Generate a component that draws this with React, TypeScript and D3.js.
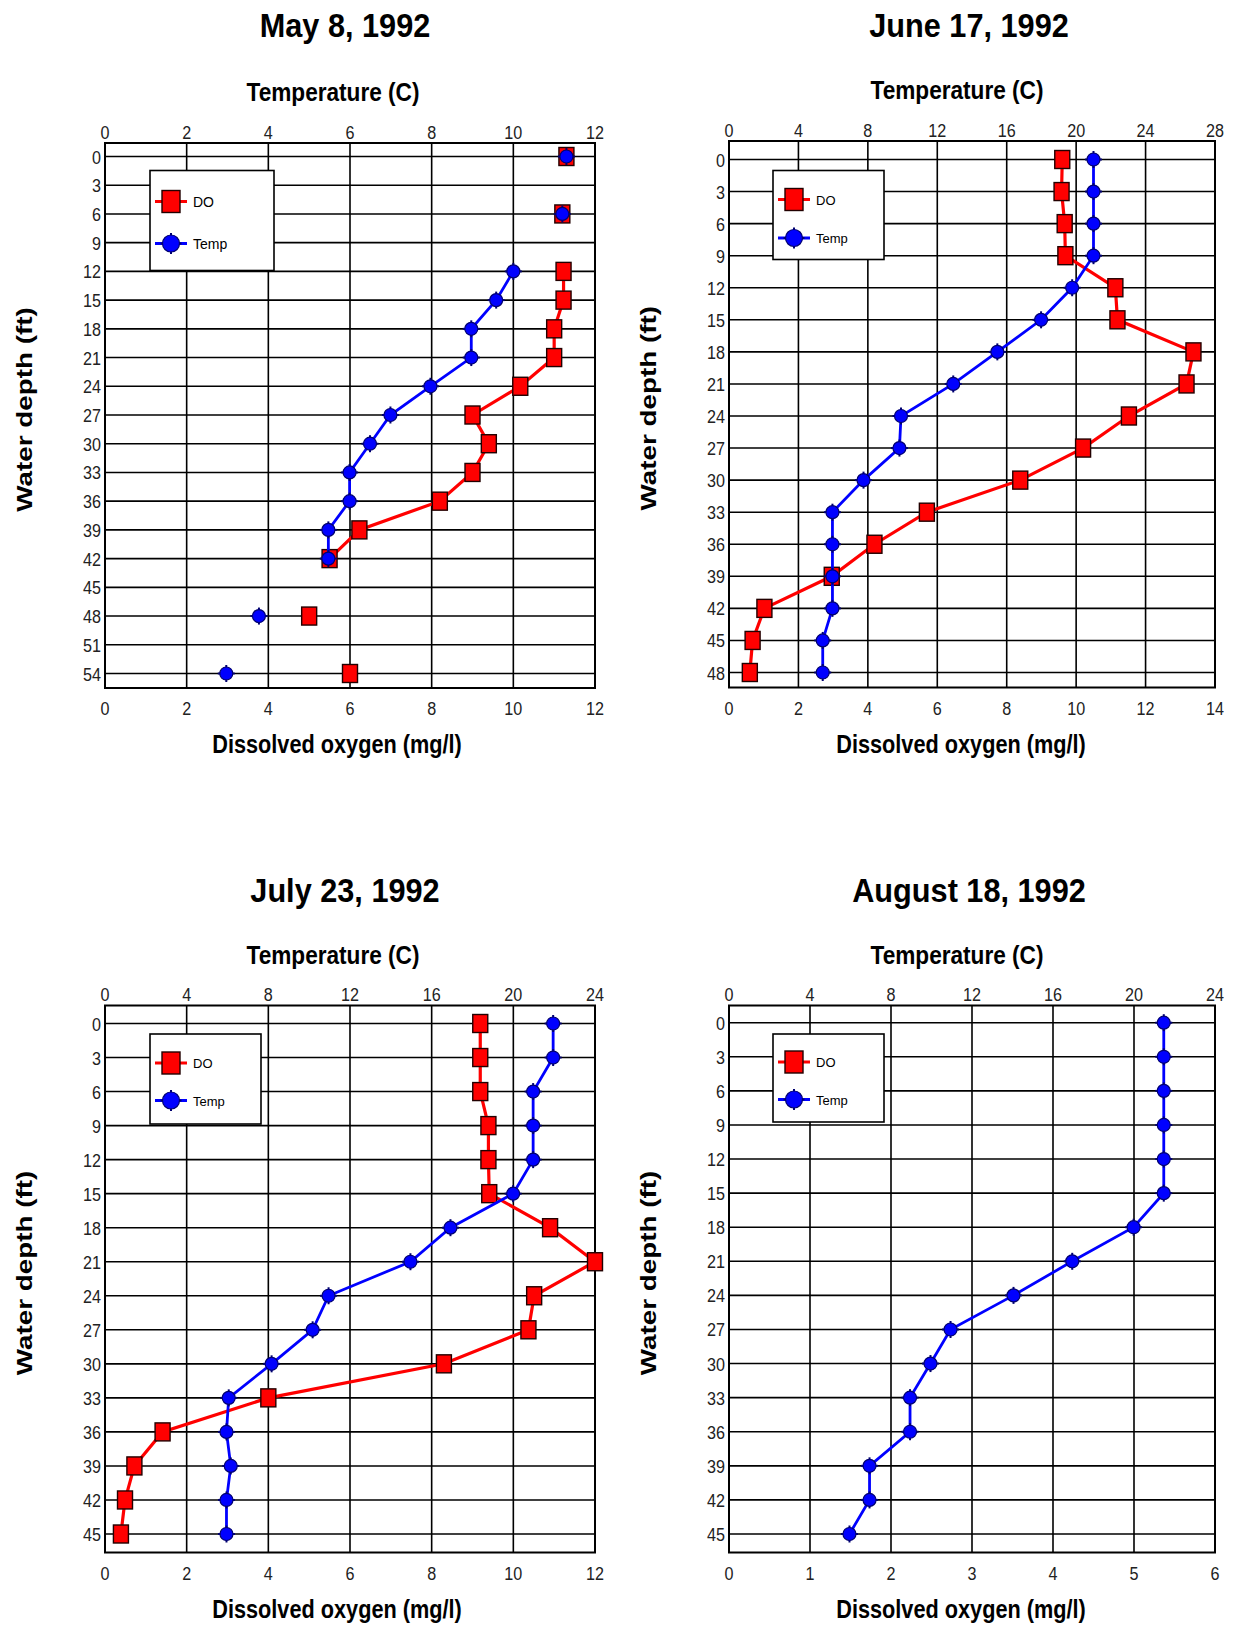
import * as d3 from 'd3'

const FONT = '"Liberation Sans", Arial, Helvetica, sans-serif'

// depth categories (ft)
const depthsMay = [0, 3, 6, 9, 12, 15, 18, 21, 24, 27, 30, 33, 36, 39, 42, 45, 48, 51, 54]
const depthsJune = [0, 3, 6, 9, 12, 15, 18, 21, 24, 27, 30, 33, 36, 39, 42, 45, 48]
const depthsJuly = [0, 3, 6, 9, 12, 15, 18, 21, 24, 27, 30, 33, 36, 39, 42, 45]
const depthsAug = [0, 3, 6, 9, 12, 15, 18, 21, 24, 27, 30, 33, 36, 39, 42, 45]

// dissolved oxygen (mg/l) and temperature (C), null = no reading
const doMay = [11.3, null, 11.2, null, 11.23, 11.23, 11.0, 11.0, 10.17, 9.0, 9.4, 9.0, 8.2, 6.23, 5.5, null, 5.0, null, 6.0]
const tempMay = [11.3, null, 11.2, null, 10.0, 9.58, 8.97, 8.97, 7.97, 6.99, 6.49, 5.99, 5.99, 5.47, 5.47, null, 3.77, null, 2.97]

const doJune = [9.6, 9.58, 9.67, 9.69, 11.13, 11.19, 13.38, 13.18, 11.52, 10.2, 8.39, 5.7, 4.19, 2.96, 1.02, 0.68, 0.6]
const tempJune = [21, 21, 21, 21, 19.77, 17.98, 15.46, 12.92, 9.91, 9.82, 7.75, 5.96, 5.96, 5.96, 5.96, 5.4, 5.4]

const doJuly = [9.19, 9.19, 9.19, 9.39, 9.39, 9.41, 10.9, 12.0, 10.51, 10.37, 8.3, 4.0, 1.41, 0.72, 0.49, 0.39]
const tempJuly = [21.95, 21.95, 20.97, 20.97, 20.97, 19.99, 16.92, 14.96, 10.95, 10.17, 8.16, 6.06, 5.95, 6.16, 5.95, 5.95]

const doAug = [null, null, null, null, null, null, null, null, null, null, null, null, null, null, null, null]
const tempAug = [21.47, 21.47, 21.47, 21.47, 21.47, 21.47, 19.98, 16.95, 14.05, 10.94, 9.95, 8.94, 8.94, 6.94, 6.94, 5.95]

// tick labels
const doTicks12 = [0, 2, 4, 6, 8, 10, 12]
const doTicks14 = [0, 2, 4, 6, 8, 10, 12, 14]
const doTicks6 = [0, 1, 2, 3, 4, 5, 6]
const tempTicks12 = [0, 2, 4, 6, 8, 10, 12]
const tempTicks28 = [0, 4, 8, 12, 16, 20, 24, 28]
const tempTicks24 = [0, 4, 8, 12, 16, 20, 24]

const RED = '#ff0000'
const BLUE = '#0000ff'

type Panel = {
  title: string
  depths: number[]
  dox: (number | null)[]
  temp: (number | null)[]
  doTicks: number[]
  tempTicks: number[]
  left: number
  right: number
  top: number
  bottom: number
  y0: number
  yEnd: number
  titleY: number
  legend: { x: number; y: number; w: number; h: number; doY: number; tY: number; fs: number }
}

const panels: Panel[] = [
  {
    title: 'May 8, 1992', depths: depthsMay, dox: doMay, temp: tempMay,
    doTicks: doTicks12, tempTicks: tempTicks12,
    left: 105, right: 595, top: 143, bottom: 688, y0: 156.5, yEnd: 673.5, titleY: 37,
    legend: { x: 150, y: 170.5, w: 124, h: 100, doY: 31, tY: 73, fs: 14 },
  },
  {
    title: 'June 17, 1992', depths: depthsJune, dox: doJune, temp: tempJune,
    doTicks: doTicks14, tempTicks: tempTicks28,
    left: 729, right: 1215, top: 141, bottom: 687.5, y0: 159.5, yEnd: 672.5, titleY: 37,
    legend: { x: 773, y: 170.5, w: 111, h: 89, doY: 29, tY: 67.5, fs: 13 },
  },
  {
    title: 'July 23, 1992', depths: depthsJuly, dox: doJuly, temp: tempJuly,
    doTicks: doTicks12, tempTicks: tempTicks24,
    left: 105, right: 595, top: 1005.5, bottom: 1552.5, y0: 1023.5, yEnd: 1534, titleY: 902,
    legend: { x: 150, y: 1034, w: 111, h: 90, doY: 29, tY: 66.5, fs: 13 },
  },
  {
    title: 'August 18, 1992', depths: depthsAug, dox: doAug, temp: tempAug,
    doTicks: doTicks6, tempTicks: tempTicks24,
    left: 729, right: 1215, top: 1005.5, bottom: 1552.5, y0: 1022.7, yEnd: 1534, titleY: 902,
    legend: { x: 773, y: 1034, w: 111, h: 88, doY: 28, tY: 65.5, fs: 13 },
  },
]

function Square({ x, y, w = 15, h = 18 }: { x: number; y: number; w?: number; h?: number }) {
  return <rect x={x - w / 2} y={y - h / 2} width={w} height={h} fill={RED} stroke="#220000" strokeWidth={1.4} />
}

function Dot({ x, y, r = 6.5 }: { x: number; y: number; r?: number }) {
  const s = r + 2
  return (
    <g>
      <line x1={x} x2={x} y1={y - s} y2={y + s} stroke="#000070" strokeWidth={2} />
      <line x1={x - s} x2={x + s} y1={y} y2={y} stroke="#000070" strokeWidth={2} />
      <circle cx={x} cy={y} r={r} fill={BLUE} stroke="#000070" strokeWidth={1.2} />
    </g>
  )
}

function ChartPanel({ p }: { p: Panel }) {
  const doMax = p.doTicks[p.doTicks.length - 1]
  const tMax = p.tempTicks[p.tempTicks.length - 1]
  const xDo = d3.scaleLinear().domain([0, doMax]).range([p.left, p.right])
  const xT = d3.scaleLinear().domain([0, tMax]).range([p.left, p.right])
  const y = d3.scaleLinear().domain([0, p.depths[p.depths.length - 1]]).range([p.y0, p.yEnd])

  const doPts = p.depths.map((d, i) => ({ d, v: p.dox[i] }))
  const tPts = p.depths.map((d, i) => ({ d, v: p.temp[i] }))

  const lineDo = d3.line<{ d: number; v: number | null }>()
    .defined(e => e.v != null).x(e => xDo(e.v as number)).y(e => y(e.d))
  const lineT = d3.line<{ d: number; v: number | null }>()
    .defined(e => e.v != null).x(e => xT(e.v as number)).y(e => y(e.d))

  const cx = p.left
  const midY = (p.top + p.bottom) / 2 - 6
  const lg = p.legend
  const mx = lg.x + 21
  const tickFs = 19

  return (
    <g>
      {/* titles */}
      <text transform={`translate(${cx + 240},${p.titleY}) scale(0.93,1)`} textAnchor="middle"
        fontSize={33} fontWeight={700} fontFamily={FONT} fill="#000">{p.title}</text>
      <text transform={`translate(${cx + 228},${p.top - 42}) scale(0.87,1)`} textAnchor="middle"
        fontSize={26} fontWeight={700} fontFamily={FONT} fill="#000">Temperature (C)</text>
      <text transform={`translate(${cx + 232},${p.bottom + 65}) scale(0.835,1)`} textAnchor="middle"
        fontSize={26} fontWeight={700} fontFamily={FONT} fill="#000">Dissolved oxygen (mg/l)</text>
      <text transform={`translate(${cx - 73},${midY}) rotate(-90) scale(1.03,0.85)`} textAnchor="middle"
        fontSize={27} fontWeight={700} fontFamily={FONT} fill="#000">Water depth (ft)</text>

      {/* grid */}
      {p.tempTicks.map(t => (
        <line key={'v' + t} x1={xT(t)} x2={xT(t)} y1={p.top} y2={p.bottom} stroke="#000" strokeWidth={1.6} />
      ))}
      {p.depths.map(d => (
        <line key={'h' + d} x1={p.left} x2={p.right} y1={y(d)} y2={y(d)} stroke="#000" strokeWidth={1.6} />
      ))}
      <rect x={p.left} y={p.top} width={p.right - p.left} height={p.bottom - p.top} fill="none" stroke="#000" strokeWidth={2} />

      {/* tick labels */}
      {p.tempTicks.map(t => (
        <text key={'tt' + t} transform={`translate(${xT(t)},${p.top - 4.5}) scale(0.85,1)`} textAnchor="middle"
          fontSize={tickFs} fontFamily={FONT} fill="#222">{t}</text>
      ))}
      {p.doTicks.map(t => (
        <text key={'bt' + t} transform={`translate(${xDo(t)},${p.bottom + 27}) scale(0.85,1)`} textAnchor="middle"
          fontSize={tickFs} fontFamily={FONT} fill="#222">{t}</text>
      ))}
      {p.depths.map(d => (
        <text key={'lt' + d} transform={`translate(${p.left - 4},${y(d) + 7}) scale(0.85,1)`} textAnchor="end"
          fontSize={tickFs} fontFamily={FONT} fill="#222">{d}</text>
      ))}

      {/* legend */}
      <rect x={lg.x} y={lg.y} width={lg.w} height={lg.h} fill="#fff" stroke="#000" strokeWidth={1.6} />
      <line x1={mx - 16} x2={mx + 16} y1={lg.y + lg.doY} y2={lg.y + lg.doY} stroke={RED} strokeWidth={3} />
      <Square x={mx} y={lg.y + lg.doY} w={18} h={22} />
      <text x={lg.x + 43} y={lg.y + lg.doY + 5} fontSize={lg.fs} fontFamily={FONT} fill="#000">DO</text>
      <line x1={mx - 16} x2={mx + 16} y1={lg.y + lg.tY} y2={lg.y + lg.tY} stroke={BLUE} strokeWidth={3} />
      <Dot x={mx} y={lg.y + lg.tY} r={8.5} />
      <text x={lg.x + 43} y={lg.y + lg.tY + 5} fontSize={lg.fs} fontFamily={FONT} fill="#000">Temp</text>

      {/* series */}
      <path d={lineDo(doPts) || ''} fill="none" stroke={RED} strokeWidth={3.2} />
      {doPts.filter(e => e.v != null).map(e => (
        <Square key={'s' + e.d} x={xDo(e.v as number)} y={y(e.d)} />
      ))}
      <path d={lineT(tPts) || ''} fill="none" stroke={BLUE} strokeWidth={2.8} />
      {tPts.filter(e => e.v != null).map(e => (
        <Dot key={'c' + e.d} x={xT(e.v as number)} y={y(e.d)} />
      ))}
    </g>
  )
}

export default function App() {
  return (
    <svg width={1236} height={1627} viewBox="0 0 1236 1627"
      style={{ position: 'absolute', left: 0, top: 0, background: '#fff', display: 'block' }}>
      <rect x={0} y={0} width={1236} height={1627} fill="#fff" />
      {panels.map(p => <ChartPanel key={p.title} p={p} />)}
    </svg>
  )
}
